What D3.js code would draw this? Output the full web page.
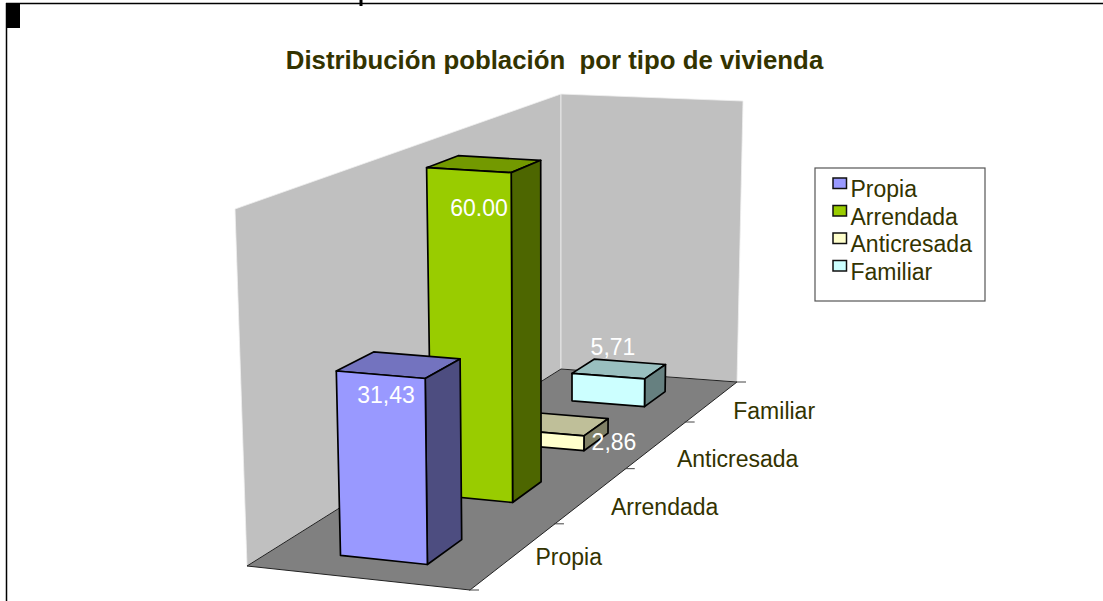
<!DOCTYPE html>
<html><head><meta charset="utf-8">
<script src="https://cdn.jsdelivr.net/npm/d3@7"></script>
<style>html,body{margin:0;padding:0;background:#fff}svg{display:block}text{font-family:"Liberation Sans",Arial,sans-serif}</style>
</head><body><svg id="c" width="1103" height="601"></svg>
<script>
const titleText = "Distribución población  por tipo de vivienda";
const categories = ["Propia","Arrendada","Anticresada","Familiar"];
const values = [31.43,60,2.86,5.71];
const valueLabels = ["31,43","60.00","2,86","5,71"];
const frontColors = ["#9999ff","#99cc00","#ffffcc","#ccffff"];
const topColors = ["#7373bf","#739900","#bfbf99","#99bfbf"];
const sideColors = ["#4d4d80","#4d6600","#808066","#668080"];

const svg = d3.select("#c");
const inkColor = "#333300";

// box corners on screen: floor (f) and ceiling (c); l/r across, n/b near/back
const box = {
  fln:[247,566], frn:[470,590], frb:[737,382], flb:[561,369],
  cln:[235,209], crn:[468,225], crb:[743,101], clb:[561,94]
};
const perspective = 1.4;
const across = d3.scaleLinear().domain([0,1]).range([0,1]);
const depth = d3.scaleBand().domain(categories).range([0,1]).paddingInner(.62).paddingOuter(.31).align(.42);
const height = d3.scaleLinear().domain([0,60]).range([0,1]);
const lerp = (a,b,t)=>[a[0]+(b[0]-a[0])*t,a[1]+(b[1]-a[1])*t];
function project(u,t,z){
  const s = perspective*t/(1+(perspective-1)*t);
  const fl = lerp(box.fln,box.flb,s), fr = lerp(box.frn,box.frb,s);
  const cl = lerp(box.cln,box.clb,s), cr = lerp(box.crn,box.crb,s);
  return lerp(lerp(fl,fr,u),lerp(cl,cr,u),z);
}
const pathOf = pts => "M"+pts.map(p=>p.map(v=>v.toFixed(1)).join(",")).join("L")+"Z";

// walls and floor
const wallFill="#c0c0c0", floorFill="#808080";
svg.append("path").attr("d",pathOf([project(0,0,0),project(0,1,0),project(0,1,1),project(0,0,1)])).attr("fill",wallFill).attr("stroke","#efefef").attr("stroke-width",.8);
svg.append("path").attr("d",pathOf([project(0,1,0),project(1,1,0),project(1,1,1),project(0,1,1)])).attr("fill",wallFill).attr("stroke","#efefef").attr("stroke-width",.8);
svg.append("path").attr("d",pathOf([project(0,0,0),project(1,0,0),project(1,1,0),project(0,1,0)])).attr("fill",floorFill).attr("stroke","#222").attr("stroke-width",1);

// depth ticks on the right floor edge
[0,.25,.5,.75,1].forEach(t=>{
  const p = project(1,t,0);
  svg.append("line").attr("x1",p[0]-1).attr("x2",p[0]+9).attr("y1",p[1]).attr("y2",p[1]).attr("stroke","#444").attr("stroke-width",1);
});

// bars, back to front
const u0=.3,u1=.697;
d3.range(categories.length-1,-1,-1).forEach(i=>{
  const c=categories[i], t0=depth(c), t1=t0+depth.bandwidth(), z=height(values[i]);
  const g=svg.append("g").attr("stroke","#000").attr("stroke-width",1.7).attr("stroke-linejoin","round");
  g.append("path").attr("d",pathOf([project(across(u0),t0,z),project(across(u1),t0,z),project(across(u1),t1,z),project(across(u0),t1,z)])).attr("fill",topColors[i]);
  g.append("path").attr("d",pathOf([project(across(u1),t0,0),project(across(u1),t1,0),project(across(u1),t1,z),project(across(u1),t0,z)])).attr("fill",sideColors[i]);
  g.append("path").attr("d",pathOf([project(across(u0),t0,0),project(across(u1),t0,0),project(across(u1),t0,z),project(across(u0),t0,z)])).attr("fill",frontColors[i]);
});

// value labels
const labelAt = [[386,403],[479,216],[614,450],[613,355]];
valueLabels.forEach((s,i)=>{
  svg.append("text").attr("x",labelAt[i][0]).attr("y",labelAt[i][1]).attr("text-anchor","middle").attr("font-size",23).attr("fill","#fff").text(s);
});

// category labels
const catNudge=[[21,10],[19,20],[20,23],[21,18]];
categories.forEach((c,i)=>{
  const p=project(1,(i+.5)/categories.length,0);
  svg.append("text").attr("x",p[0]+catNudge[i][0]).attr("y",p[1]+catNudge[i][1]).attr("font-size",23).attr("fill",inkColor).text(c);
});

// title
svg.append("text").attr("x",554.5).attr("y",69).attr("text-anchor","middle").attr("font-size",25.8).attr("font-weight","bold").attr("fill",inkColor).style("white-space","pre").text(titleText);

// legend
svg.append("rect").attr("x",815).attr("y",168).attr("width",170).attr("height",133).attr("fill","#fff").attr("stroke","#555").attr("stroke-width",1.2);
categories.forEach((c,i)=>{
  const y=d3.scaleLinear().domain([0,3]).range([178,260.5])(i);
  svg.append("rect").attr("x",833).attr("y",y).attr("width",13.5).attr("height",10.5).attr("fill",frontColors[i]).attr("stroke","#111").attr("stroke-width",1.5);
  svg.append("text").attr("x",850.5).attr("y",y+19).attr("font-size",23).attr("fill",inkColor).text(c);
});

// page frame
svg.append("line").attr("x1",6.5).attr("x2",6.5).attr("y1",3).attr("y2",601).attr("stroke","#000").attr("stroke-width",1.5);
svg.append("line").attr("x1",6).attr("x2",1103).attr("y1",3.5).attr("y2",3.5).attr("stroke","#000").attr("stroke-width",1.5);
svg.append("rect").attr("x",7).attr("y",4).attr("width",13).attr("height",24).attr("fill","#000");
svg.append("line").attr("x1",361).attr("x2",361).attr("y1",0).attr("y2",6).attr("stroke","#000").attr("stroke-width",3);
</script></body></html>
